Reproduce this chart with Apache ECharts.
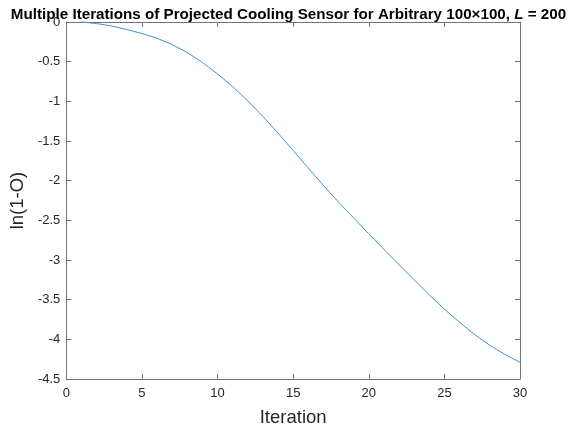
<!DOCTYPE html>
<html>
<head>
<meta charset="utf-8">
<script src="https://cdn.jsdelivr.net/npm/echarts@6/dist/echarts.min.js"></script>
<style>html,body{margin:0;padding:0;background:#fff;}#c{width:577px;height:432px;}</style>
</head>
<body>
<div id="c"></div>
<script>
const iterations = [1,2,3,4,5,6,7,8,9,10,11,12,13,14,15,16,17,18,19,20,21,22,23,24,25,26,27,28,29,30];
const lnValues = [0,-0.02,-0.05,-0.095,-0.145,-0.205,-0.285,-0.385,-0.51,-0.655,-0.815,-0.995,-1.19,-1.40,-1.62,-1.84,-2.06,-2.27,-2.47,-2.67,-2.865,-3.06,-3.25,-3.44,-3.62,-3.785,-3.94,-4.075,-4.19,-4.29];
const xTicks = [0,5,10,15,20,25,30];
const yTicks = [0,-0.5,-1,-1.5,-2,-2.5,-3,-3.5,-4,-4.5];

const chart = echarts.init(document.getElementById('c'), null, {renderer:'canvas'});
const axisCol = '#737373';
const txtCol = '#262626';
const font = 'Liberation Sans, Arial, sans-serif';
function tick(){ return {show:true, inside:true, length:5, lineStyle:{color:axisCol, width:1}}; }
function line(){ return {show:true, onZero:false, lineStyle:{color:axisCol, width:1}}; }
chart.setOption({
  animation:false,
  backgroundColor:'#fff',
  title:{
    text:'{a|Multiple Iterations of Projected Cooling Sensor for Arbitrary 100\u00d7100, }{i|L}{a| = 200}',
    left:'center', top:2,
    textStyle:{rich:{
      a:{fontFamily:font, fontWeight:'bold', fontSize:15.2, color:'#000'},
      i:{fontFamily:font, fontWeight:'bold', fontStyle:'italic', fontSize:15.2, color:'#000'}
    }}
  },
  grid:{left:63.5, right:57, top:22, bottom:51.5, containLabel:false},
  xAxis:[
    {type:'value', min:0, max:30, interval:5, position:'bottom',
      axisLine:line(), axisTick:tick(), splitLine:{show:false},
      name:'Iteration', nameLocation:'middle', nameGap:29,
      nameTextStyle:{fontFamily:font, fontSize:18.5, color:txtCol},
      axisLabel:{fontFamily:font, fontSize:13, color:txtCol, margin:8}},
    {type:'value', min:0, max:30, interval:5, position:'top',
      axisLine:line(), axisTick:tick(), splitLine:{show:false},
      axisLabel:{show:false}}
  ],
  yAxis:[
    {type:'value', min:-4.5, max:0, interval:0.5, position:'left',
      axisLine:line(), axisTick:tick(), splitLine:{show:false},
      name:'ln(1-O)', nameLocation:'middle', nameGap:37, nameRotate:90,
      nameTextStyle:{fontFamily:font, fontSize:18.5, color:txtCol},
      axisLabel:{fontFamily:font, fontSize:13, color:txtCol, margin:6,
        formatter:function(v){return String(Math.round(v*10)/10);}}},
    {type:'value', min:-4.5, max:0, interval:0.5, position:'right',
      axisLine:line(), axisTick:tick(), splitLine:{show:false},
      axisLabel:{show:false}}
  ],
  series:[{
    type:'line',
    xAxisIndex:0, yAxisIndex:0,
    data:iterations.map((x,i)=>[x, lnValues[i]]),
    smooth:false,
    showSymbol:false,
    lineStyle:{color:'#3d94d1', width:1},
    clip:false
  }]
});
</script>
</body>
</html>
